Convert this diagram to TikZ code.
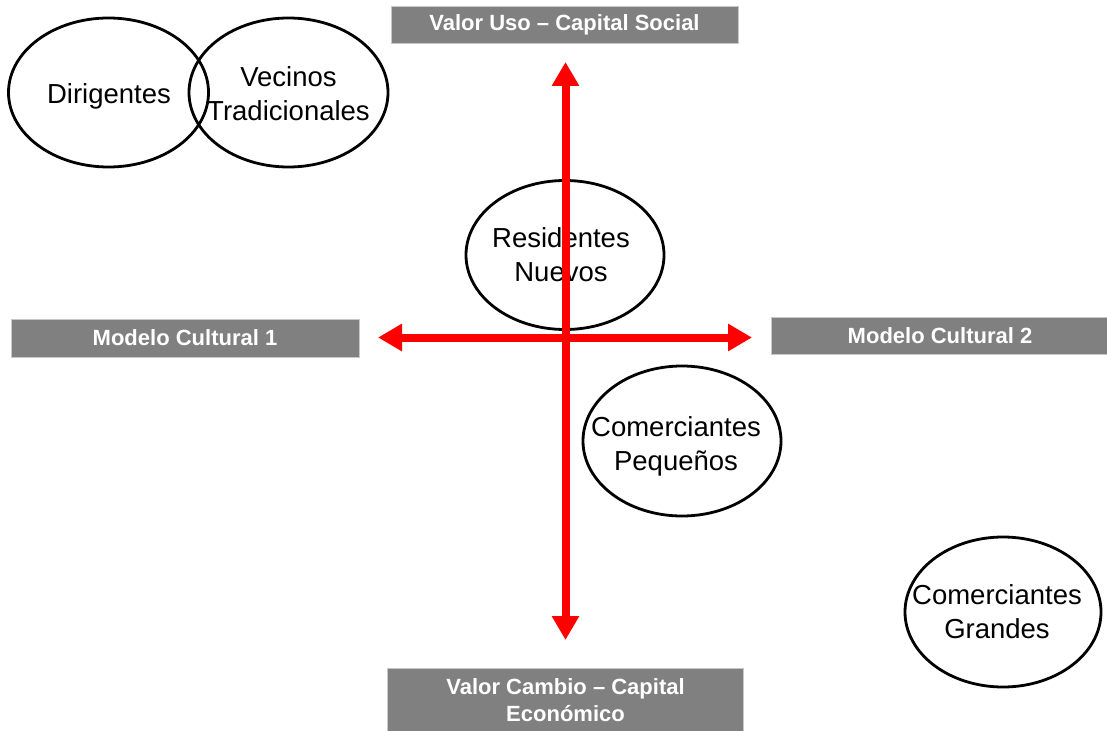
\documentclass[tikz,border=0pt]{standalone}
\usepackage{fontspec}
\setmainfont{Liberation Sans}
\usetikzlibrary{shapes.geometric,arrows.meta}
\definecolor{boxgray}{HTML}{808080}
\definecolor{boxedge}{HTML}{C8C8C8}
\definecolor{axisred}{HTML}{FF0000}
\tikzset{
  oval/.style={draw=black, line width=2.8pt, ellipse, inner sep=0pt, align=center},
  ovaltext/.style={align=center, font=\fontsize{27.5}{34}\selectfont},
  labelbox/.style={fill=boxgray, draw=boxedge, line width=0.8pt, inner sep=0pt, align=center,
    text=white, font=\fontsize{22}{27}\selectfont\bfseries},
  axis/.style={draw=axisred, line width=8pt, {Triangle[width=26pt,length=24pt]}-{Triangle[width=26pt,length=24pt]}}
}
\begin{document}
\begin{tikzpicture}[x=1pt,y=-1pt]
\useasboundingbox (0,0) rectangle (1107,730);
% label boxes
\node[labelbox, minimum width=347pt, minimum height=37pt] (top) at (564.5,24.5) {Valor Uso – Capital Social};
\node[labelbox, minimum width=356pt, minimum height=64pt] (bottom) at (565.5,700) {Valor Cambio – Capital\\Económico};
\node[labelbox, minimum width=348pt, minimum height=38pt] (left) at (185,338) {Modelo Cultural 1};
\node[labelbox, minimum width=338pt, minimum height=37pt] (right) at (940,335.5) {Modelo Cultural 2};
% ellipses
\node[oval, minimum width=200pt, minimum height=149pt] (dir) at (108.5,92.5) {};
\node[ovaltext] (dirt) at (109,96) {Dirigentes};
\node[oval, minimum width=199pt, minimum height=149pt] (vec) at (288.5,92.5) {};
\node[ovaltext] (vect) at (288.5,94) {Vecinos\\Tradicionales};
\node[oval, minimum width=198pt, minimum height=149pt] (res) at (565,255) {};
\node[ovaltext] (rest) at (561,255) {Residentes\\Nuevos};
\node[oval, minimum width=198pt, minimum height=150pt] (cp) at (682,441) {};
\node[ovaltext] (cpt) at (676,446) {Comerciantes\\Pequeños};
\node[oval, minimum width=196pt, minimum height=150pt] (cg) at (1003,612) {};
\node[ovaltext] (cgt) at (997,612) {Comerciantes\\Grandes};
% axes
\coordinate (vt) at (565.5,62);
\coordinate (vb) at (565.5,640);
\coordinate (hl) at (378,337.5);
\coordinate (hr) at (752,337.5);
\draw[axis] (vt) -- (vb);
\draw[axis] (hl) -- (hr);
\end{tikzpicture}
\end{document}
